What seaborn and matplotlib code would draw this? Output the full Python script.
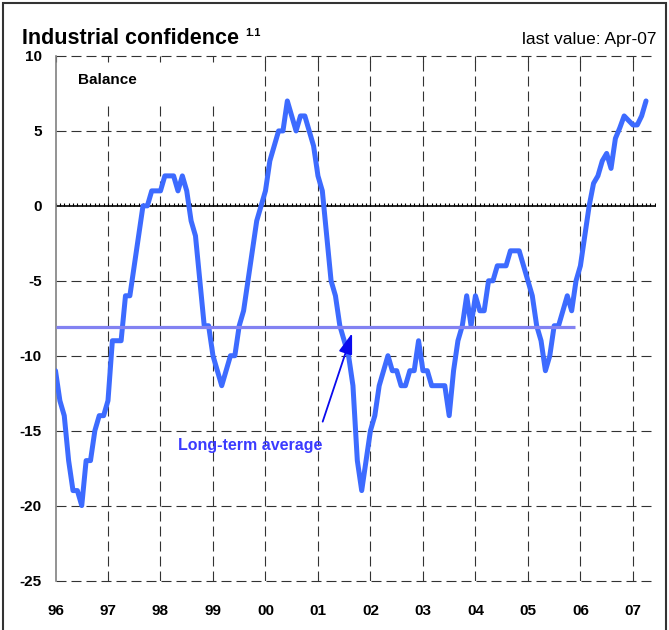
import numpy as np
import pandas as pd
import matplotlib
matplotlib.use("Agg")
import matplotlib.pyplot as plt
from matplotlib.patches import Rectangle
import seaborn as sns

# -----------------------------
# DATA (monthly balance, Jan-96 .. Apr-07)
# -----------------------------
y1996 = [-11, -13, -14, -17, -19, -19, -20, -17, -17, -15, -14, -14]
y1997 = [-13, -9, -9, -9, -6, -6, -4, -2, 0, 0, 1, 1]
y1998 = [1, 2, 2, 2, 1, 2, 1, -1, -2, -5, -8, -8]
y1999 = [-10, -11, -12, -11, -10, -10, -8, -7, -5, -3, -1, 0]
y2000 = [1, 3, 4, 5, 5, 7, 6, 5, 6, 6, 5, 4]
y2001 = [2, 1, -2, -5, -6, -8, -9, -10, -12, -17, -19, -17]
y2002 = [-15, -14, -12, -11, -10, -11, -11, -12, -12, -11, -11, -9]
y2003 = [-11, -11, -12, -12, -12, -12, -14, -11, -9, -8, -6, -8]
y2004 = [-6, -7, -7, -5, -5, -4, -4, -4, -3, -3, -3, -4]
y2005 = [-5, -6, -8, -9, -11, -10, -8, -8, -7, -6, -7, -5]
y2006 = [-4, -2, 0, 1.5, 2, 3, 3.5, 2.5, 4.5, 5.2, 6, 5.7]
y2007 = [5.4, 5.4, 6, 7]

long_term_avg = -8.1
avg_start, avg_end = 1996.0, 2005.9

year_ticks = list(range(1996, 2008))
year_labels = ["96", "97", "98", "99", "00", "01", "02", "03", "04", "05", "06", "07"]
y_ticks = [10, 5, 0, -5, -10, -15, -20, -25]

balance = y1996 + y1997 + y1998 + y1999 + y2000 + y2001 + y2002 + y2003 + y2004 + y2005 + y2006 + y2007
df = pd.DataFrame({"year": 1996 + np.arange(len(balance)) / 12, "balance": balance})

# -----------------------------
# STYLE
# -----------------------------
sns.set_style("white")
plt.rcParams["font.family"] = ["Liberation Sans", "DejaVu Sans"]
plt.rcParams["text.color"] = "black"
plt.rcParams["xtick.color"] = "black"
plt.rcParams["ytick.color"] = "black"

LINE_BLUE = "#3d6bff"
AVG_BLUE = "#8282f2"
GRID = "#333333"
DASH = (0, (9, 4.5))

fig = plt.figure(figsize=(6.69, 6.30), dpi=100)
ax = fig.add_axes([55.5 / 669, 1 - 580.5 / 630, (656 - 55.5) / 669, (580.5 - 56) / 630])

ax.set_xlim(1996, 2007.44)
ax.set_ylim(-25, 10)

# grid
for yv in y_ticks:
    if yv != 0:
        ax.axhline(yv, color=GRID, lw=0.8, ls=DASH, clip_on=False, zorder=1)
grid_years = year_ticks[1:]
grid_tops = [7.0 if yr <= 1999 else 10 for yr in grid_years]
ax.vlines(grid_years, -25, grid_tops, colors=GRID, lw=0.8, linestyles=DASH, zorder=1)

# zero line with monthly ticks
ax.axhline(0, color="black", lw=1.2, zorder=2)
months = 1996 + np.arange(0, 11.5 * 12) / 12
ax.vlines(months, 0, 0.22, colors="black", lw=0.8, zorder=2)

# series
sns.lineplot(data=df, x="year", y="balance", ax=ax, color=LINE_BLUE, lw=3.6, zorder=3)
ax.plot([avg_start, avg_end], [long_term_avg, long_term_avg], color=AVG_BLUE, lw=2.3, zorder=4,
        solid_capstyle="butt")

ax.annotate("", xy=(2001.65, -8.5), xytext=(2001.09, -14.4),
            arrowprops=dict(arrowstyle="-|>,head_length=0.9,head_width=0.3", color="#0a0aee",
                            lw=1.3, mutation_scale=14, shrinkA=0, shrinkB=0), zorder=5)
ax.text(1999.7, -16.0, "Long-term average", color="#3b3bff", fontsize=11.5, fontweight="bold",
        ha="center", va="center", zorder=5)

# axes cosmetics
for side in ["top", "right", "bottom"]:
    ax.spines[side].set_visible(False)
ax.spines["left"].set_color("#808080")
ax.spines["left"].set_linewidth(1.2)

ax.set_xticks(year_ticks)
ax.set_xticklabels(year_labels, fontsize=11, fontweight="bold")
ax.set_yticks(y_ticks)
ax.set_yticklabels([str(v) for v in y_ticks], fontsize=11, fontweight="bold")
ax.tick_params(axis="x", direction="in", length=4, pad=17, color=GRID, width=0.8, top=True)
ax.tick_params(axis="y", length=0, pad=10)
ax.set_xlabel("")
ax.set_ylabel("")

# texts
fig.text(22 / 669, 1 - 44 / 630, "Industrial confidence", fontsize=15.5, fontweight="bold", va="baseline")
fig.text(245 / 669, 1 - 36 / 630, "1.1", fontsize=8, fontweight="bold", va="baseline")
fig.text(657 / 669, 1 - 44 / 630, "last value: Apr-07", fontsize=12.5, ha="right", va="baseline")
fig.text(78 / 669, 1 - 84 / 630, "Balance", fontsize=11, fontweight="bold", va="baseline")

# frame around the figure
fig.patches.append(Rectangle((3 / 669, -0.02), 663 / 669, 1.015, transform=fig.transFigure,
                             fill=False, edgecolor="#333333", lw=1.5))

fig.savefig("out.png", dpi=100)
